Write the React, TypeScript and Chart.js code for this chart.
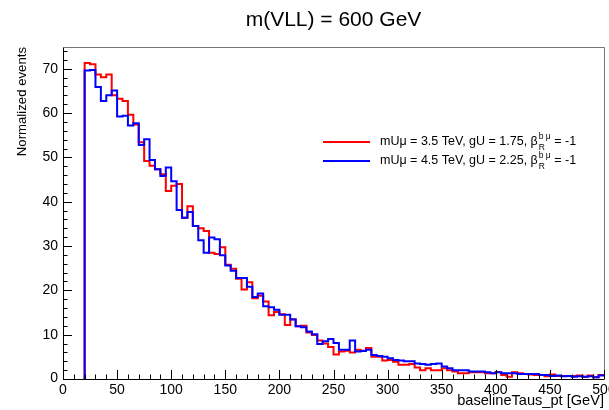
import React, { useEffect, useRef } from 'react';
import { Chart, registerables } from 'chart.js';

Chart.register(...registerables);

// ---- Data ----
const binWidth = 5;
const binLowEdges: number[] = Array.from({ length: 96 }, (_, i) => 20 + binWidth * i);
const xMax = 500;
const yMax = 74.9;

const redValues: number[] = [
  71.3, 71.0, 68.7, 68.1, 68.7, 64.0, 63.2, 62.7, 59.6, 57.4,
  53.4, 49.2, 48.1, 47.3, 46.2, 42.4, 43.6, 44.0, 36.4, 39.0,
  34.5, 34.0, 33.4, 28.5, 28.2, 29.7, 25.8, 24.9, 22.6, 20.2,
  21.8, 18.2, 18.8, 17.5, 14.4, 15.1, 14.6, 12.2, 13.5, 11.9,
  12.0, 10.5, 9.9, 8.7, 8.0, 7.2, 5.5, 6.2, 6.4, 6.0,
  6.6, 6.4, 7.0, 5.0, 5.0, 4.2, 4.3, 3.9, 3.2, 3.2,
  3.4, 2.6, 2.0, 2.4, 2.0, 2.0, 2.4, 2.0, 1.7, 1.3,
  1.3, 1.5, 1.5, 1.5, 1.3, 1.3, 1.6, 0.9, 0.5, 1.5,
  1.3, 1.1, 1.0, 0.9, 0.9, 0.6, 1.0, 0.7, 0.7, 0.7,
  0.7, 0.8, 0.5, 0.8, 0.4, 0.9,
];

const blueValues: number[] = [
  69.6, 69.7, 65.9, 62.7, 64.0, 65.1, 59.2, 59.4, 57.2, 57.7,
  52.8, 54.1, 49.4, 47.3, 45.8, 47.7, 44.6, 38.1, 36.4, 37.7,
  34.5, 31.3, 28.5, 31.9, 31.5, 27.9, 25.6, 24.4, 22.8, 22.8,
  20.8, 18.5, 19.3, 16.4, 16.2, 15.6, 14.5, 14.5, 13.4, 11.9,
  11.7, 10.7, 10.1, 7.9, 8.5, 9.0, 8.1, 6.6, 6.6, 8.7,
  6.2, 6.3, 6.6, 5.4, 5.2, 5.0, 4.7, 4.3, 4.2, 4.0,
  4.0, 3.5, 3.4, 3.2, 3.4, 3.5, 2.8, 2.4, 2.0, 2.0,
  2.0, 1.7, 1.7, 1.7, 1.5, 1.3, 1.5, 1.3, 1.3, 1.3,
  1.1, 1.1, 1.1, 1.1, 0.9, 0.9, 0.7, 0.8, 0.6, 0.7,
  0.5, 0.6, 0.5, 0.6, 0.4, 0.8,
];

const yTickValues: number[] = [0, 10, 20, 30, 40, 50, 60, 70];
const xTickValues: number[] = [0, 50, 100, 150, 200, 250, 300, 350, 400, 450, 500];

const titleText = 'm(VLL) = 600 GeV';
const xTitle = 'baselineTaus_pt [GeV]';
const yTitle = 'Normalized events';
const redLabelMain = 'mUμ = 3.5 TeV, gU = 1.75, β';
const blueLabelMain = 'mUμ = 4.5 TeV, gU = 2.25, β';
const labelSup = 'b μ';
const labelSub = 'R';
const labelTail = ' = -1';

const FONT = '"Liberation Sans", Arial, Helvetica, sans-serif';

function histPoints(values: number[]) {
  const pts: { x: number; y: number }[] = [{ x: binLowEdges[0], y: 0 }];
  values.forEach((v, i) => pts.push({ x: binLowEdges[i], y: v }));
  pts.push({ x: binLowEdges[values.length - 1] + binWidth, y: values[values.length - 1] });
  return pts;
}

const rootStylePlugin = {
  id: 'rootStyle',
  beforeDraw(chart: any) {
    const { ctx, width, height } = chart;
    ctx.save();
    ctx.fillStyle = '#ffffff';
    ctx.fillRect(0, 0, width, height);
    ctx.restore();
  },
  afterDatasetsDraw(chart: any) {
    const { ctx, chartArea: a, scales } = chart;
    const xs = scales.x;
    const ys = scales.y;
    ctx.save();

    // frame
    ctx.lineWidth = 1;
    ctx.strokeStyle = '#777777';
    ctx.beginPath();
    ctx.moveTo(a.left + 0.5, a.top + 0.5);
    ctx.lineTo(a.right + 0.5, a.top + 0.5);
    ctx.lineTo(a.right + 0.5, a.bottom + 0.5);
    ctx.stroke();
    ctx.strokeStyle = '#000000';
    ctx.beginPath();
    ctx.moveTo(a.left + 0.5, a.top + 0.5);
    ctx.lineTo(a.left + 0.5, a.bottom + 0.5);
    ctx.lineTo(a.right + 0.5, a.bottom + 0.5);
    ctx.stroke();

    // y ticks (inward)
    ctx.strokeStyle = '#000000';
    ctx.beginPath();
    for (let v = 0; v <= yMax + 1e-6; v += 2) {
      const py = Math.round(ys.getPixelForValue(v)) + 0.5;
      const len = v % 10 === 0 ? 9 : 4.5;
      ctx.moveTo(a.left, py);
      ctx.lineTo(a.left + len, py);
    }
    // x ticks (inward)
    for (let v = 0; v <= xMax + 1e-6; v += 10) {
      const px = Math.round(xs.getPixelForValue(v)) + 0.5;
      const len = v % 50 === 0 ? 9 : 4.5;
      ctx.moveTo(px, a.bottom);
      ctx.lineTo(px, a.bottom - len);
    }
    ctx.stroke();

    // tick labels
    ctx.fillStyle = '#000000';
    ctx.font = `14px ${FONT}`;
    ctx.textAlign = 'right';
    ctx.textBaseline = 'middle';
    yTickValues.forEach((v) => {
      const py = ys.getPixelForValue(v);
      ctx.fillText(String(v), a.left - 5, v === 0 ? py - 1 : py);
    });
    ctx.textAlign = 'center';
    ctx.textBaseline = 'top';
    xTickValues.forEach((v) => {
      ctx.fillText(String(v), xs.getPixelForValue(v), a.bottom + 4);
    });

    // axis titles
    ctx.font = `14.6px ${FONT}`;
    ctx.textAlign = 'right';
    ctx.textBaseline = 'middle';
    ctx.fillText(xTitle, a.right, 401);
    ctx.save();
    ctx.translate(22, a.top);
    ctx.rotate(-Math.PI / 2);
    ctx.font = `13.2px ${FONT}`;
    ctx.textAlign = 'right';
    ctx.textBaseline = 'middle';
    ctx.fillText(yTitle, 0, 0);
    ctx.restore();

    // title
    ctx.font = `21px ${FONT}`;
    ctx.textAlign = 'center';
    ctx.textBaseline = 'middle';
    ctx.fillText(titleText, (a.left + a.right) / 2, 20);

    // legend
    const entries = [
      { color: '#ff0000', text: redLabelMain, y: 142 },
      { color: '#0000ff', text: blueLabelMain, y: 161 },
    ];
    entries.forEach((e) => {
      ctx.strokeStyle = e.color;
      ctx.lineWidth = 2;
      ctx.beginPath();
      ctx.moveTo(323, e.y);
      ctx.lineTo(370, e.y);
      ctx.stroke();
      ctx.fillStyle = '#000000';
      ctx.textAlign = 'left';
      ctx.textBaseline = 'middle';
      ctx.font = `12.5px ${FONT}`;
      let x = 380;
      ctx.fillText(e.text, x, e.y);
      x += ctx.measureText(e.text).width + 1;
      ctx.font = `8.5px ${FONT}`;
      ctx.fillText(labelSup, x, e.y - 5);
      const supW = ctx.measureText(labelSup).width;
      ctx.fillText(labelSub, x, e.y + 6);
      x += supW;
      ctx.font = `12.5px ${FONT}`;
      ctx.fillText(labelTail, x, e.y);
    });

    ctx.restore();
  },
};

export default function App() {
  const canvasRef = useRef<HTMLCanvasElement | null>(null);

  useEffect(() => {
    const canvas = canvasRef.current;
    if (!canvas) return;
    const chart = new Chart(canvas, {
      type: 'line',
      data: {
        datasets: [
          {
            label: 'blue',
            data: histPoints(blueValues),
            borderColor: '#0000ff',
            borderWidth: 2,
            stepped: 'before',
            pointRadius: 0,
            fill: false,
          },
          {
            label: 'red',
            data: histPoints(redValues),
            borderColor: '#ff0000',
            borderWidth: 2,
            stepped: 'before',
            pointRadius: 0,
            fill: false,
          },
        ],
      },
      options: {
        animation: false,
        responsive: false,
        maintainAspectRatio: false,
        devicePixelRatio: 1,
        layout: { padding: { left: 63, right: 5, top: 47, bottom: 31 } },
        plugins: {
          legend: { display: false },
          title: { display: false },
          tooltip: { enabled: false },
        },
        scales: {
          x: { type: 'linear', min: 0, max: xMax, display: false },
          y: { type: 'linear', min: 0, max: yMax, display: false },
        },
        elements: { line: { tension: 0 } },
      },
      plugins: [rootStylePlugin],
    } as any);
    return () => chart.destroy();
  }, []);

  return (
    <div style={{ position: 'absolute', left: 0, top: 0, width: 609, height: 410, overflow: 'hidden', background: '#fff' }}>
      <canvas ref={canvasRef} width={609} height={410} style={{ display: 'block' }} />
    </div>
  );
}
